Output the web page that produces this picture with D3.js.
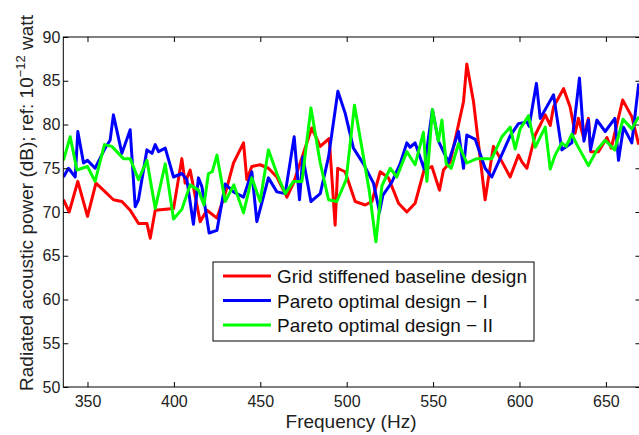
<!DOCTYPE html>
<html><head><meta charset="utf-8">
<script src="https://cdn.jsdelivr.net/npm/d3@7"></script>
<style>body{margin:0;background:#fff}svg{display:block}text{font-family:"Liberation Sans",Arial,sans-serif}</style>
</head><body><svg id="c" width="639" height="435"></svg>
<script>
const seriesNames = ["Grid stiffened baseline design","Pareto optimal design \u2212 I","Pareto optimal design \u2212 II"];
const seriesColors = ["#ff0000","#0000ff","#00ff00"];

const redFreq = [336.1,339.4,344.4,350.0,354.9,359.2,365.0,369.9,374.7,379.5,384.4,386.3,389.2,399.8,404.6,406.5,409.4,415.2,419.1,424.9,429.7,434.5,440.3,442.2,445.1,449.9,454.7,459.6,465.4,469.2,479.8,484.7,489.9,493.3,494.8,499.1,504.9,510.7,514.6,519.4,524.2,530.0,534.8,539.6,544.8,549.3,553.7,556.0,559.9,567.6,569.5,573.4,580.1,584.9,587.8,594.6,599.4,601.5,604.3,609.1,614.9,617.8,619.7,625.5,629.3,632.2,634.1,637.0,639.9,641.2,645.7,650.6,653.1,659.7,665.0,669.0];
const redDb = [71.4,70.0,73.5,69.5,73.3,72.5,71.4,71.2,70.2,68.7,68.7,67.0,70.2,70.4,76.1,73.3,74.8,68.9,70.2,69.3,72.1,75.6,77.9,73.7,75.2,75.4,75.0,74.0,71.7,73.3,79.6,77.5,78.4,68.5,75.0,74.6,71.2,70.8,71.2,74.6,73.9,71.0,70.0,71.0,74.8,75.2,72.5,74.8,75.7,82.6,86.9,82.6,71.4,77.5,76.5,74.0,76.5,75.7,75.0,78.8,81.1,79.9,82.0,84.1,82.0,79.0,80.7,78.6,80.7,76.9,76.9,78.5,77.3,82.8,80.9,77.7];

const blueFreq = [336.1,339.0,342.9,344.4,347.7,350.0,354.4,360.2,363.1,365.0,369.9,374.7,377.6,379.5,384.4,387.3,389.2,391.1,395.0,399.8,404.6,407.5,411.3,414.2,416.2,420.4,424.9,429.7,434.5,440.3,445.1,448.0,454.7,459.6,464.4,469.6,472.7,474.6,479.3,484.7,489.5,494.9,499.1,503.9,509.7,515.5,519.0,520.9,526.1,530.9,534.8,536.7,539.6,544.8,549.6,553.1,558.9,564.7,567.6,569.5,574.4,580.1,584.0,594.6,599.4,604.3,605.6,609.8,612.0,619.7,624.5,630.3,634.7,637.3,639.9,641.1,644.8,649.6,655.2,657.3,660.2,665.0,669.0];
const blueDb = [74.0,75.0,74.0,79.2,75.6,75.9,75.0,77.3,78.2,81.1,76.7,79.4,70.6,71.4,77.1,76.7,77.7,76.9,77.3,74.0,74.4,73.7,68.6,73.9,72.9,67.6,67.9,73.2,72.3,71.7,74.6,68.9,73.9,72.3,72.1,78.6,71.4,76.3,71.2,72.1,76.3,83.8,81.3,77.3,75.5,73.3,70.0,71.9,73.4,75.5,77.9,77.4,77.9,74.9,81.7,78.1,75.7,79.2,75.0,78.8,78.3,75.0,74.0,78.7,80.1,80.3,79.8,84.7,80.7,83.4,77.1,77.9,85.3,78.1,80.5,77.1,80.5,79.2,80.7,75.9,79.7,77.9,84.7];

const greenFreq = [336.1,340.0,343.9,350.0,354.4,359.8,364.1,370.8,374.7,379.5,384.4,389.2,395.0,399.8,404.6,409.4,414.2,417.4,420.0,422.2,424.9,429.7,434.7,440.3,445.1,449.9,454.7,459.6,464.4,469.2,474.1,479.3,484.7,489.5,494.3,499.7,504.5,509.7,513.0,516.9,520.4,525.2,529.0,534.8,539.6,544.4,546.4,549.6,553.1,555.1,557.6,560.5,564.7,569.5,575.3,584.0,589.8,594.6,597.5,600.4,605.2,609.1,614.9,617.8,620.6,624.5,627.0,630.3,633.2,639.9,644.8,649.6,655.1,659.9,665.0,669.0];
const greenDb = [75.9,78.6,74.8,75.2,73.5,77.7,77.5,76.1,76.1,73.7,75.9,70.4,75.5,69.2,70.3,73.1,72.5,70.8,74.4,74.6,76.5,71.2,73.1,69.9,73.9,71.2,77.1,74.4,72.1,73.5,73.5,81.9,75.6,71.4,71.2,73.7,82.2,76.3,72.5,66.6,73.0,75.0,74.0,76.9,75.4,79.1,73.5,81.7,78.1,80.5,75.5,75.0,77.8,75.6,76.1,76.1,78.6,79.7,77.2,79.5,81.0,77.4,79.7,74.9,76.5,77.9,77.5,78.9,77.7,75.3,77.1,78.2,77.1,80.6,79.5,80.9];

const xTicks = [350,400,450,500,550,600,650];
const yTicks = [50,55,60,65,70,75,80,85,90];

const svg = d3.select("#c");
const L = 63.3, T = 37, B = 387;
const x = d3.scaleLinear().domain([336, 670]).range([L, L + 334 * 1.728]);
const y = d3.scaleLinear().domain([50, 90]).range([B, T]);
const R = x.range()[1];

svg.append("defs").append("clipPath").attr("id","clip")
  .append("rect").attr("x",L).attr("y",T).attr("width",R-L).attr("height",B-T);

const series = [
  {f: redFreq, v: redDb},
  {f: blueFreq, v: blueDb},
  {f: greenFreq, v: greenDb}
];
const line = d3.line().x(d => x(d[0])).y(d => y(d[1]));
const g = svg.append("g").attr("clip-path","url(#clip)");
series.forEach((s,i) => {
  g.append("path").datum(s.f.map((f,k)=>[f,s.v[k]]))
   .attr("d", line).attr("fill","none").attr("stroke", seriesColors[i])
   .attr("stroke-width", 3).attr("stroke-linejoin","round");
});

// frame
const frame = svg.append("g").attr("stroke","#000").attr("stroke-width",1).attr("fill","none");
frame.append("rect").attr("x",L).attr("y",T).attr("width",R-L).attr("height",B-T);

// axes
const xAxis = d3.axisBottom(x).tickValues(xTicks).tickSizeInner(-5).tickSizeOuter(0).tickPadding(9);
svg.append("g").attr("transform",`translate(0,${B})`).call(xAxis);
const yAxis = d3.axisLeft(y).tickValues(yTicks).tickSizeInner(-5).tickSizeOuter(0).tickPadding(3);
svg.append("g").attr("transform",`translate(${L},0)`).call(yAxis);
// top & right ticks
svg.append("g").attr("transform",`translate(0,${T})`).call(d3.axisTop(x).tickValues(xTicks).tickSizeInner(-5).tickSizeOuter(0).tickFormat(""));
svg.append("g").attr("transform",`translate(${R},0)`).call(d3.axisRight(y).tickValues(yTicks).tickSizeInner(-5).tickSizeOuter(0).tickFormat(""));
svg.selectAll(".domain").remove();
svg.selectAll(".tick line").attr("stroke","#000");
svg.selectAll(".tick text").attr("font-size","16px").attr("fill","#222").attr("font-family","Liberation Sans, Arial, sans-serif");

// labels
svg.append("text").attr("x",351).attr("y",428).attr("text-anchor","middle")
  .attr("font-size","19px").attr("fill","#222").text("Frequency (Hz)");
const yl = svg.append("text").attr("transform","translate(33,203) rotate(-90)")
  .attr("text-anchor","middle").attr("font-size","19px").attr("fill","#222");
yl.append("tspan").text("Radiated acoustic power (dB); ref: 10");
yl.append("tspan").attr("dy",-8).attr("font-size","13px").text("\u221212");
yl.append("tspan").attr("dy",8).text(" watt");

// legend
const lg = svg.append("g");
lg.append("rect").attr("x",213).attr("y",262).attr("width",321).attr("height",79)
  .attr("fill","#fff").attr("stroke","#000").attr("stroke-width",1);
const rows = [276, 300.5, 325];
seriesNames.forEach((n,i) => {
  lg.append("line").attr("x1",223).attr("x2",271).attr("y1",rows[i]).attr("y2",rows[i])
    .attr("stroke",seriesColors[i]).attr("stroke-width",3);
  lg.append("text").attr("x",277).attr("y",rows[i]+7).attr("font-size","19px").attr("fill","#111").text(n);
});
</script></body></html>
